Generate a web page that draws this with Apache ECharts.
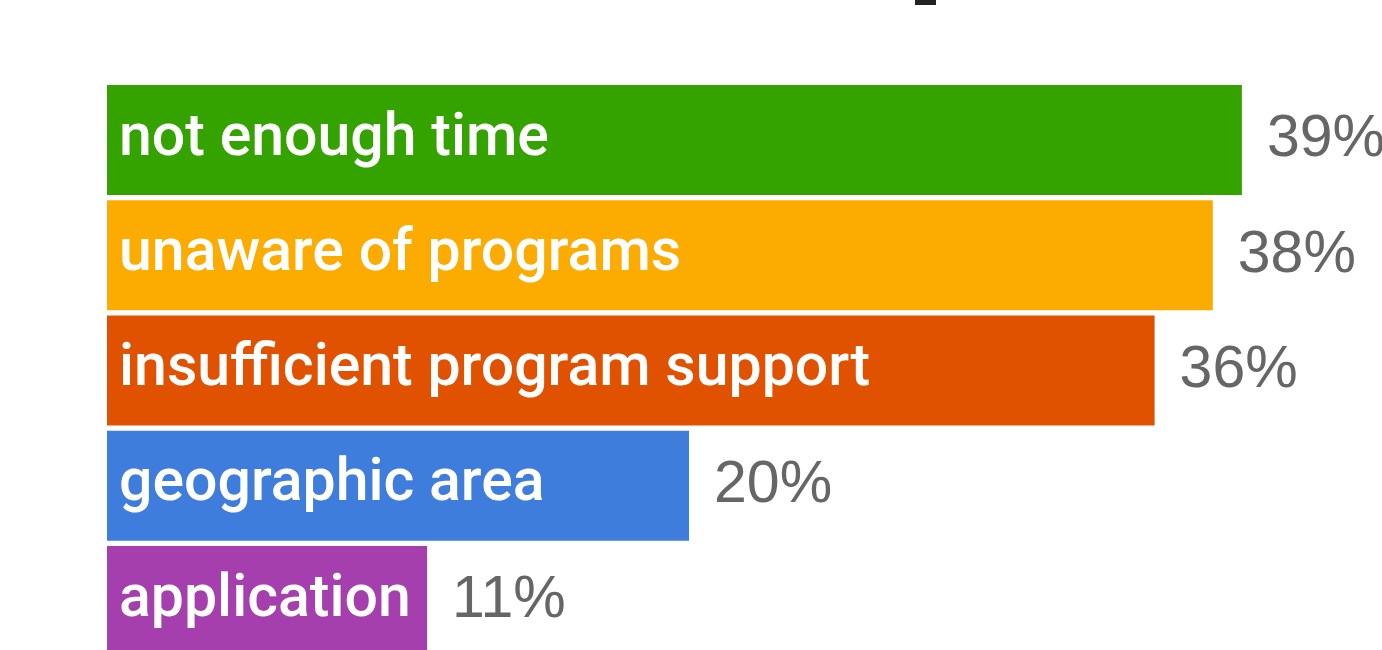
<!DOCTYPE html>
<html>
<head>
<meta charset="utf-8">
<script src="https://cdn.jsdelivr.net/npm/echarts@6/dist/echarts.min.js"></script>
<style>
html,body{margin:0;padding:0;background:#fff;}
#chart{width:1382px;height:650px;}
</style>
</head>
<body>
<div id="chart"></div>
<script>
const categories = ['not enough time', 'unaware of programs', 'insufficient program support', 'geographic area', 'application'];
const values = [39, 38, 36, 20, 11];
const colors = ['#34a300', '#fcab00', '#e05200', '#3f7ddc', '#a53fae'];

const chart = echarts.init(document.getElementById('chart'));
const option = {
  animation: false,
  backgroundColor: '#ffffff',
  grid: { left: 107, top: 82.5, width: 1251.3, height: 576, outerBoundsMode: 'none', containLabel: false },
  xAxis: { type: 'value', min: 0, max: 43, show: false },
  yAxis: { type: 'category', data: categories, inverse: true, show: false },
  graphic: [{ type: 'rect', shape: { x: 915, y: 0, width: 21, height: 5 }, style: { fill: '#222' } }],
  series: [
    {
      type: 'bar',
      barWidth: 110,
      data: values.map((v, i) => ({ value: v, itemStyle: { color: colors[i] } })),
      label: {
        show: true,
        position: 'insideLeft',
        distance: 12,
        formatter: p => categories[p.dataIndex],
        color: '#fff',
        fontFamily: "Roboto, 'Liberation Sans', sans-serif",
        fontWeight: 500,
        fontSize: 59
      }
    },
    {
      type: 'bar',
      barWidth: 110,
      barGap: '-100%',
      silent: true,
      data: values,
      itemStyle: { color: 'rgba(0,0,0,0)' },
      label: {
        show: true,
        position: 'right',
        distance: 25,
        formatter: p => p.value + '%',
        color: '#666666',
        fontFamily: "'Liberation Sans', Arial, sans-serif",
        fontSize: 59
      }
    }
  ]
};
chart.setOption(option);
</script>
</body>
</html>
